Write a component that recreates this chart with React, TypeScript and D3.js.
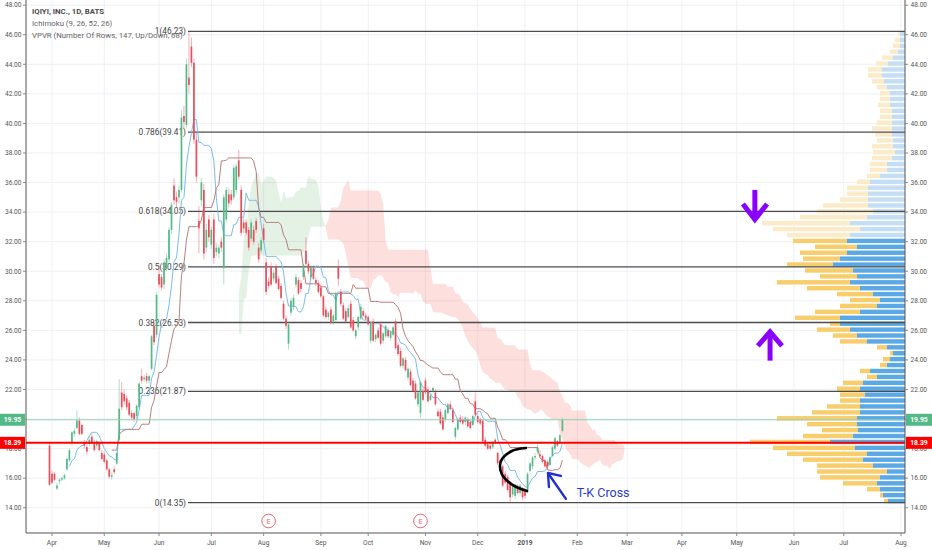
import * as d3 from 'd3';

const W = 932;
const H = 550;
const FONT = 'Roboto, "Liberation Sans", Arial, sans-serif';

// daily bars [open, high, low, close], IPO day (29 Mar 2018) to 24 Jan 2019
const ohlc: number[][] = [
  [18.2, 18.4, 15.5, 15.55], [16.3, 16.5, 15.6, 15.7], [16.3, 16.4, 15.8, 15.9], [15.3, 15.7, 15.2, 15.5], [15.8, 16.0, 15.6, 15.9],
  [15.9, 16.1, 15.8, 16.0], [16.0, 16.3, 15.9, 16.2], [16.6, 17.4, 16.5, 17.3], [17.2, 18.0, 17.1, 17.9], [18.4, 19.2, 18.2, 19.1],
  [19.0, 19.4, 18.8, 19.2], [19.4, 20.6, 19.3, 19.9], [19.9, 20.1, 18.9, 19.0], [19.6, 19.7, 18.9, 19.0], [18.4, 18.6, 18.0, 18.2],
  [18.1, 18.3, 17.6, 17.8], [18.3, 18.8, 18.2, 18.6], [18.8, 19.0, 18.3, 18.4], [18.4, 18.6, 17.8, 17.9], [18.2, 18.6, 18.0, 18.5],
  [18.4, 18.5, 17.8, 17.9], [17.7, 17.9, 17.2, 17.3], [17.6, 17.8, 17.0, 17.1], [17.2, 17.3, 16.5, 16.6], [16.6, 16.7, 16.0, 16.1],
  [16.1, 16.4, 15.9, 16.2], [16.6, 16.8, 16.3, 16.4], [17.0, 17.8, 16.9, 17.7], [18.6, 22.7, 18.5, 20.7], [21.8, 22.5, 20.6, 20.8],
  [21.7, 22.0, 21.0, 21.2], [21.4, 21.6, 20.6, 20.8], [21.1, 21.3, 20.2, 20.3], [20.4, 20.6, 19.9, 20.1], [20.4, 20.5, 19.8, 20.0],
  [20.2, 21.0, 20.0, 20.9], [20.8, 22.5, 20.7, 22.4], [22.9, 23.4, 22.4, 22.6], [22.7, 23.0, 22.5, 22.8], [22.9, 23.1, 22.4, 22.6],
  [22.6, 23.0, 22.4, 22.9], [23.4, 25.7, 23.3, 25.6], [26.3, 26.6, 25.0, 25.2], [25.7, 28.6, 25.5, 28.4], [29.8, 30.4, 28.9, 29.1],
  [29.6, 29.8, 28.7, 28.9], [29.1, 30.8, 28.8, 30.6], [30.2, 31.2, 30.0, 30.9], [30.8, 33.0, 30.6, 32.8], [32.8, 34.7, 32.5, 34.5],
  [35.8, 36.3, 34.5, 34.8], [35.0, 35.4, 34.3, 34.7], [35.0, 35.8, 34.6, 35.5], [35.5, 40.9, 35.3, 40.4], [40.5, 41.2, 39.6, 40.1],
  [39.9, 44.4, 39.7, 44.0], [43.1, 46.23, 42.0, 42.6], [45.2, 45.8, 43.8, 44.1], [44.1, 44.4, 38.6, 38.9], [38.9, 39.5, 36.0, 36.4],
  [33.4, 34.4, 31.2, 32.9], [34.8, 36.3, 34.4, 36.0], [35.5, 35.9, 30.8, 31.2], [31.6, 33.2, 31.3, 32.8], [33.5, 33.8, 32.0, 32.3],
  [31.8, 33.0, 31.5, 32.8], [33.5, 33.9, 30.5, 30.9], [31.3, 31.9, 31.0, 31.6], [31.2, 31.8, 30.9, 31.6], [32.0, 32.3, 31.3, 31.6],
  [30.2, 35.2, 29.1, 35.0], [33.5, 35.7, 33.3, 35.5], [35.2, 35.6, 34.3, 34.6], [35.2, 35.5, 34.5, 34.8], [35.0, 37.2, 34.8, 37.0],
  [35.5, 37.3, 35.2, 37.1], [37.5, 38.2, 36.2, 36.4], [35.5, 35.8, 32.4, 32.6], [33.3, 33.6, 32.6, 32.9], [33.3, 33.5, 32.4, 32.6],
  [32.8, 33.0, 31.4, 31.6], [32.2, 33.5, 32.0, 33.3], [32.8, 33.1, 31.8, 32.0], [33.4, 33.6, 32.6, 32.8], [31.6, 31.9, 30.6, 30.8],
  [31.4, 32.3, 31.2, 32.1], [32.9, 33.2, 31.9, 32.1], [30.6, 30.9, 28.4, 28.6], [29.3, 29.6, 28.8, 29.0], [30.3, 30.6, 29.0, 29.1],
  [29.5, 30.1, 29.3, 29.9], [30.3, 30.5, 29.1, 29.2], [29.5, 29.7, 28.7, 28.8], [29.0, 29.2, 28.1, 28.2], [27.8, 28.0, 26.7, 26.8],
  [26.8, 27.0, 26.1, 26.3], [25.1, 26.6, 24.7, 26.4], [27.2, 28.2, 27.0, 28.0], [27.6, 28.4, 27.4, 28.2], [29.1, 29.8, 28.9, 29.6],
  [29.4, 29.6, 28.4, 28.5], [29.2, 29.4, 28.6, 28.8], [29.6, 30.5, 29.4, 30.4], [31.4, 32.3, 30.3, 30.5], [30.5, 30.7, 29.8, 30.0],
  [29.6, 30.4, 29.4, 30.3], [30.2, 30.4, 29.4, 29.5], [29.4, 29.6, 29.0, 29.2], [29.2, 29.4, 28.5, 28.6], [28.9, 29.1, 28.2, 28.3],
  [28.3, 28.4, 26.9, 27.0], [27.4, 27.6, 26.8, 26.9], [26.9, 27.3, 26.7, 27.2], [27.4, 27.6, 26.4, 26.5], [26.6, 27.1, 26.4, 27.0],
  [26.7, 28.6, 26.5, 28.5], [30.3, 30.8, 29.0, 29.5], [28.6, 28.8, 27.6, 27.8], [27.7, 27.9, 26.7, 26.8], [27.3, 27.5, 26.5, 26.6],
  [26.9, 27.7, 26.8, 27.5], [27.8, 28.0, 26.1, 26.2], [26.7, 26.9, 25.9, 26.0], [25.6, 26.1, 25.4, 26.0], [26.2, 27.0, 26.0, 26.9],
  [26.8, 27.8, 26.7, 27.6], [27.3, 27.5, 26.9, 27.0], [27.0, 27.2, 26.7, 26.8], [26.9, 27.0, 26.3, 26.4], [25.3, 26.6, 25.1, 26.5],
  [26.6, 26.8, 25.2, 25.3], [25.4, 25.8, 25.2, 25.7], [26.0, 26.2, 25.4, 25.5], [26.4, 26.6, 25.0, 25.1], [25.3, 25.9, 25.1, 25.8],
  [25.6, 26.4, 25.5, 26.3], [26.0, 26.2, 25.5, 25.6], [25.5, 26.0, 25.3, 25.9], [25.7, 26.3, 25.6, 26.2], [26.6, 26.8, 24.7, 24.8],
  [25.0, 25.2, 24.3, 24.4], [24.6, 24.8, 23.5, 23.6], [23.6, 24.2, 23.4, 24.1], [24.0, 24.2, 23.2, 23.3], [22.8, 23.5, 22.6, 23.4],
  [23.2, 23.4, 22.2, 22.3], [22.6, 22.8, 21.8, 21.9], [22.4, 22.6, 21.3, 21.4], [21.0, 21.9, 20.8, 21.8], [20.4, 22.6, 20.1, 22.5],
  [21.9, 22.1, 21.2, 21.3], [22.6, 22.8, 21.7, 21.8], [22.0, 22.2, 21.1, 21.2], [21.3, 21.7, 21.2, 21.6], [21.9, 22.2, 21.8, 22.1],
  [21.8, 22.0, 20.9, 21.0], [20.5, 20.7, 20.1, 20.2], [20.5, 20.7, 19.6, 19.7], [20.1, 20.3, 19.2, 19.3], [20.0, 20.7, 19.8, 20.6],
  [20.4, 21.1, 20.3, 21.0], [21.0, 21.2, 20.6, 20.7], [20.6, 20.8, 19.7, 19.8], [18.8, 19.5, 18.6, 19.4], [19.3, 20.1, 19.2, 20.0],
  [20.1, 20.3, 19.7, 19.8], [20.0, 20.2, 19.6, 19.7], [19.8, 20.2, 19.6, 20.1], [20.0, 20.1, 19.4, 19.5], [19.8, 19.9, 19.3, 19.4],
  [19.6, 20.3, 19.5, 20.2], [21.2, 21.8, 20.2, 20.3], [20.2, 20.4, 19.7, 19.8], [20.0, 20.1, 19.6, 19.7], [19.9, 20.0, 18.4, 18.5],
  [18.6, 18.8, 18.1, 18.2], [18.3, 18.4, 17.9, 18.0], [18.2, 18.3, 17.9, 18.0], [18.1, 18.5, 18.0, 18.4], [18.6, 18.7, 18.3, 18.4],
  [17.7, 17.8, 16.9, 17.0], [17.2, 17.3, 16.4, 16.5], [16.8, 16.9, 15.4, 15.5], [16.3, 16.5, 15.6, 15.7], [16.1, 16.2, 15.1, 15.2],
  [15.7, 15.8, 14.35, 14.7], [14.9, 15.5, 14.7, 15.4], [14.8, 15.6, 14.6, 15.5], [15.4, 15.6, 14.9, 15.0], [15.0, 15.6, 14.8, 15.5],
  [15.3, 15.4, 14.5, 14.7], [15.2, 15.3, 14.6, 14.8], [15.2, 16.4, 15.0, 16.3], [16.5, 17.1, 16.3, 17.0], [16.8, 17.5, 16.6, 17.4],
  [17.4, 17.7, 17.2, 17.5], [17.8, 18.4, 17.6, 18.1], [17.6, 17.9, 17.4, 17.5], [17.5, 17.6, 17.0, 17.1], [17.2, 17.3, 16.7, 16.8],
  [17.1, 17.2, 16.6, 16.8], [16.9, 17.5, 16.8, 17.4], [17.5, 18.2, 17.4, 18.1], [18.0, 18.8, 17.9, 18.7], [18.5, 18.6, 18.1, 18.2],
  [18.4, 19.0, 18.3, 18.9], [19.2, 20.1, 19.1, 19.95],
];

// month labels and the bar index where each month starts
const monthLabels = ['Apr', 'May', 'Jun', 'Jul', 'Aug', 'Sep', 'Oct', 'Nov', 'Dec', '2019', 'Feb', 'Mar', 'Apr', 'May', 'Jun', 'Jul', 'Aug'];
const monthBars = [1, 22, 44, 65, 86, 109, 128, 151, 172, 191, 212, 232, 254, 276, 299, 319, 342];

const priceTicks = [14, 16, 18, 20, 22, 24, 26, 28, 30, 32, 34, 36, 38, 40, 42, 44, 46, 48];

const fibRatios = ['1', '0.786', '0.618', '0.5', '0.382', '0.236', '0'];
const fibPrices = [46.23, 39.41, 34.05, 30.29, 26.53, 21.87, 14.35];

const lastPrice = 19.95;
const alertPrice = 18.39;

const earningsBars = [88, 149];

// Ichimoku (9, 26, 52, 26)
const tenkanLen = 9;
const kijunLen = 26;
const spanBLen = 52;
const displacement = 26;

// volume profile rows (price step 0.4 from 14.4), total and up volume
const vpStart = 14.4;
const vpStep = 0.4;
const vpTotal = [
  21, 25, 38, 62, 85, 88, 88, 102, 118, 132,
  155, 102, 83, 98, 128, 93, 78, 65, 65, 68,
  62, 38, 45, 25, 22, 15, 28, 65, 72, 88,
  75, 110, 90, 65, 55, 68, 98, 128, 85, 100,
  118, 102, 105, 90, 112, 118, 132, 143, 105, 88,
  82, 65, 58, 58, 48, 38, 35, 35, 33, 32,
  33, 28, 30, 33, 28, 25, 25, 27, 25, 25,
  28, 33, 37, 37, 29, 23, 15, 12, 10, 7,
];
const vpUp = [
  17, 22, 25, 28, 25, 18, 32, 42, 38, 50,
  75, 52, 47, 48, 48, 45, 45, 45, 40, 45,
  42, 28, 35, 18, 15, 12, 18, 38, 48, 55,
  65, 65, 45, 28, 25, 32, 45, 55, 48, 52,
  72, 65, 58, 48, 58, 55, 45, 55, 38, 32,
  37, 37, 37, 37, 35, 25, 18, 18, 13, 10,
  12, 12, 13, 13, 13, 13, 13, 15, 15, 15,
  18, 21, 23, 23, 17, 12, 7, 5, 5, 5,
];
const valueAreaHigh = 32.2;

// hand-drawn annotations, in (bar, price)
const downArrowShaft = [[283.3, 35.5], [283.3, 33.7]];
const downArrowHead = [[278.5, 34.55], [283.3, 33.5], [288.2, 34.55]];
const upArrowShaft = [[289.4, 23.95], [289.4, 25.7]];
const upArrowHead = [[284.5, 24.95], [289.4, 25.9], [294.2, 24.95]];
const curvePts = [[191.35, 18.04], [185.5, 17.82], [181.3, 17.15], [181.6, 16.3], [185.5, 15.6], [191.8, 15.13]];
const blueArrowShaft = [[207.4, 14.6], [200.4, 16.3]];
const blueArrowHead = [[200.6, 15.4], [200.2, 16.35], [205.4, 16.15]];
const tkLabel = { bar: 211.8, price: 14.7, text: 'T-K Cross' };

const UP = '#53b987';
const DOWN = '#eb4d5c';

const mid = (i: number, n: number): number | null => {
  if (i < n - 1) return null;
  const win = ohlc.slice(i - n + 1, i + 1);
  return ((d3.max(win, (d) => d[1]) as number) + (d3.min(win, (d) => d[2]) as number)) / 2;
};

export default function App() {
  const left = 26;
  const right = 905;
  const bottom = 533;
  const x = d3.scaleLinear().domain([-9.44, 343.6]).range([left, right]);
  const y = d3.scaleLinear().domain([12.29, 48.35]).range([bottom, 0]);
  const vScale = d3.scaleLinear().domain([0, 155]).range([0, 155]);

  const tenkan = ohlc.map((_, i) => mid(i, tenkanLen));
  const kijun = ohlc.map((_, i) => mid(i, kijunLen));
  const cloud: { bar: number; a: number; b: number }[] = [];
  ohlc.forEach((_, i) => {
    const t = tenkan[i];
    const k = kijun[i];
    const b = mid(i, spanBLen);
    if (t != null && k != null && b != null) cloud.push({ bar: i + displacement - 1, a: (t + k) / 2, b });
  });

  const lineGen = d3
    .line<number | null>()
    .defined((d) => d != null)
    .x((_, i) => x(i))
    .y((d) => y(d as number));

  type K = { bar: number; a: number; b: number };
  const clipBelowA = d3.area<K>().x((d) => x(d.bar)).y0(bottom).y1((d) => y(d.a));
  const clipAboveA = d3.area<K>().x((d) => x(d.bar)).y0(0).y1((d) => y(d.a));
  const fillAboveB = d3.area<K>().x((d) => x(d.bar)).y0(0).y1((d) => y(d.b));
  const fillBelowB = d3.area<K>().x((d) => x(d.bar)).y0(bottom).y1((d) => y(d.b));

  const pt = d3.line<number[]>().x((d) => x(d[0])).y((d) => y(d[1]));
  const smooth = d3.line<number[]>().x((d) => x(d[0])).y((d) => y(d[1])).curve(d3.curveCatmullRom);

  const bodyW = 1.7;

  const axisText = { fontFamily: FONT, fontSize: 6.6, fill: '#555' };

  const priceBox = (price: number, color: string) => (
    <g key={'box' + price}>
      <rect x={0} y={y(price) - 6} width={left - 1} height={12} fill={color} />
      <text x={(left - 1) / 2} y={y(price) + 2.4} textAnchor="middle" fontFamily={FONT} fontSize={6.8} fontWeight={700} fill="#fff">
        {price.toFixed(2)}
      </text>
      <rect x={right + 1} y={y(price) - 6} width={W - right - 1} height={12} fill={color} />
      <text x={(right + 1 + W) / 2} y={y(price) + 2.4} textAnchor="middle" fontFamily={FONT} fontSize={6.8} fontWeight={700} fill="#fff">
        {price.toFixed(2)}
      </text>
    </g>
  );

  return (
    <svg width={W} height={H} style={{ position: 'fixed', left: 0, top: 0, background: '#fff' }}>
      <defs>
        <clipPath id="belowA">
          <path d={clipBelowA(cloud) || ''} />
        </clipPath>
        <clipPath id="aboveA">
          <path d={clipAboveA(cloud) || ''} />
        </clipPath>
        <clipPath id="plot">
          <rect x={left} y={0} width={right - left} height={bottom} />
        </clipPath>
      </defs>

      {/* grid */}
      <g stroke="#eef0f4" strokeWidth={1}>
        {priceTicks.map((p) => (
          <line key={'hg' + p} x1={left} x2={right} y1={y(p)} y2={y(p)} />
        ))}
        {monthBars.map((b, i) => (
          <line key={'vg' + i} x1={x(b)} x2={x(b)} y1={0} y2={bottom} />
        ))}
      </g>

      <g clipPath="url(#plot)">
        {/* kumo */}
        <path d={fillAboveB(cloud) || ''} fill="rgba(67,160,71,0.14)" clipPath="url(#belowA)" />
        <path d={fillBelowB(cloud) || ''} fill="rgba(244,67,54,0.17)" clipPath="url(#aboveA)" />

        {/* volume profile */}
        {vpTotal.map((tot, k) => {
          const p = vpStart + k * vpStep;
          const yTop = y(p + vpStep / 2);
          const hgt = y(p - vpStep / 2) - yTop - 1.5;
          const inVA = p <= valueAreaHigh;
          const wT = vScale(tot);
          const wU = vScale(vpUp[k]);
          return (
            <g key={'vp' + k}>
              <rect x={right - wT} y={yTop} width={wT - wU} height={hgt} fill={inVA ? '#f8cd6c' : '#fcebc8'} />
              <rect x={right - wU} y={yTop} width={wU} height={hgt} fill={inVA ? '#5aa9e5' : '#c4dff5'} />
            </g>
          );
        })}

        {/* fib retracement */}
        {fibPrices.map((p, i) => (
          <g key={'fib' + i}>
            <line x1={188} x2={right} y1={y(p)} y2={y(p)} stroke="#4d4d4d" strokeWidth={1.3} />
            <text x={186} y={y(p) + 3} textAnchor="end" fontFamily={FONT} fontSize={8.3} fill="#444">
              {`${fibRatios[i]}(${p.toFixed(2)})`}
            </text>
          </g>
        ))}

        {/* tenkan / kijun */}
        <path d={lineGen(tenkan) || ''} fill="none" stroke="#7bbbee" strokeWidth={1} />
        <path d={lineGen(kijun) || ''} fill="none" stroke="#b77f7d" strokeWidth={1} />

        {/* candles */}
        {ohlc.map((d, i) => {
          const [o, h, l, c] = d;
          const col = c >= o ? UP : DOWN;
          const top = y(Math.max(o, c));
          const bh = Math.max(1, y(Math.min(o, c)) - top);
          return (
            <g key={'c' + i}>
              <line x1={x(i)} x2={x(i)} y1={y(h)} y2={y(l)} stroke={col} strokeOpacity={0.45} strokeWidth={1} />
              <rect x={x(i) - bodyW / 2} y={top} width={bodyW} height={bh} fill={col} />
            </g>
          );
        })}

        {/* last price and alert line */}
        <line x1={left} x2={right} y1={y(lastPrice)} y2={y(lastPrice)} stroke="#8fd3b3" strokeWidth={1} />
        <line x1={left} x2={right} y1={y(alertPrice)} y2={y(alertPrice)} stroke="#ff0000" strokeWidth={2} />

        {/* annotations */}
        <g stroke="#8a00ff" strokeWidth={5} fill="none" strokeLinejoin="miter" strokeLinecap="butt">
          <path d={pt(downArrowShaft) || ''} />
          <path d={pt(downArrowHead) || ''} />
          <path d={pt(upArrowShaft) || ''} />
          <path d={pt(upArrowHead) || ''} />
        </g>
        <path d={smooth(curvePts) || ''} fill="none" stroke="#000" strokeWidth={2.6} strokeLinecap="round" />
        <g stroke="#1f2fd6" strokeWidth={2.4} fill="none" strokeLinecap="round" strokeLinejoin="round">
          <path d={pt(blueArrowShaft) || ''} />
          <path d={pt(blueArrowHead) || ''} />
        </g>
        <text x={x(tkLabel.bar)} y={y(tkLabel.price)} fontFamily={FONT} fontSize={12.5} fill="#2a3ccc">
          {tkLabel.text}
        </text>

        {/* earnings */}
        {earningsBars.map((b) => (
          <g key={'e' + b}>
            <circle cx={x(b)} cy={521} r={6.8} fill="#fff" stroke="#e4677c" strokeWidth={1} />
            <text x={x(b)} y={523.6} textAnchor="middle" fontFamily={FONT} fontSize={7.2} fill="#e4677c">
              E
            </text>
          </g>
        ))}
      </g>

      {/* legend */}
      <text x={32} y={14} fontFamily={FONT} fontSize={7.8} fontWeight={700} fill="#4a4a4a">
        IQIYI, INC., 1D, BATS
      </text>
      <text x={32} y={26} fontFamily={FONT} fontSize={7.8} fill="#666">
        Ichimoku (9, 26, 52, 26)
      </text>
      <text x={32} y={37.5} fontFamily={FONT} fontSize={7.8} fill="#666">
        VPVR (Number Of Rows, 147, Up/Down, 68)
      </text>

      {/* axes */}
      <line x1={left} x2={left} y1={0} y2={bottom} stroke="#555" strokeWidth={1} />
      <line x1={right} x2={right} y1={0} y2={bottom} stroke="#555" strokeWidth={1} />
      <line x1={left} x2={right} y1={bottom} y2={bottom} stroke="#555" strokeWidth={1} />
      {priceTicks.map((p) => (
        <g key={'pt' + p}>
          <line x1={left - 3} x2={left} y1={y(p)} y2={y(p)} stroke="#888" />
          <text x={left - 4.5} y={y(p) + 2.3} textAnchor="end" {...axisText}>
            {p.toFixed(2)}
          </text>
          <line x1={right} x2={right + 3} y1={y(p)} y2={y(p)} stroke="#888" />
          <text x={right + 5.5} y={y(p) + 2.3} {...axisText}>
            {p.toFixed(2)}
          </text>
        </g>
      ))}
      {monthBars.map((b, i) => (
        <g key={'mt' + i}>
          <line x1={x(b)} x2={x(b)} y1={bottom} y2={bottom + 3} stroke="#888" />
          <text x={x(b)} y={545} textAnchor="middle" {...axisText} fontWeight={monthLabels[i] === '2019' ? 700 : 400}>
            {monthLabels[i]}
          </text>
        </g>
      ))}
      {priceBox(lastPrice, '#53b987')}
      {priceBox(alertPrice, '#ff0000')}
    </svg>
  );
}
